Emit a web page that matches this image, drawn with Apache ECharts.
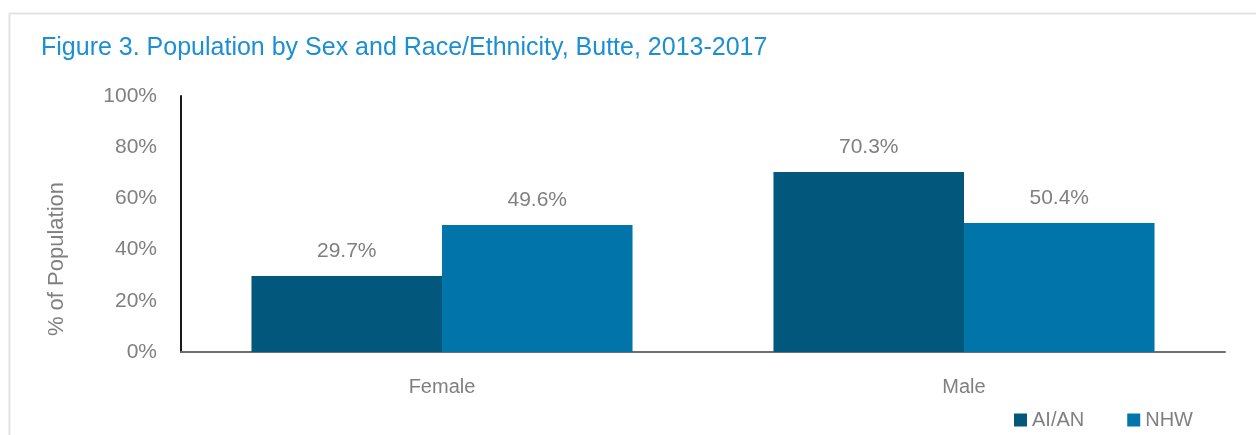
<!DOCTYPE html>
<html><head><meta charset="utf-8">
<script src="https://cdn.jsdelivr.net/npm/echarts@6/dist/echarts.min.js"></script>
<style>html,body{margin:0;padding:0;background:#fff}#c{width:1256px;height:435px}</style>
</head><body><div id="c"></div>
<script>
const categories = ['Female', 'Male'];
const seriesNames = ['AI/AN', 'NHW'];
const aian = [29.7, 70.3];
const nhw = [49.6, 50.4];
const yTicks = [0, 20, 40, 60, 80, 100];
const yAxisTitle = '% of Population';

const FONT = '"Liberation Sans Narrow", "Arial Narrow", "Liberation Sans", Arial, sans-serif';
const chart = echarts.init(document.getElementById('c'), null, {renderer: 'canvas'});
chart.setOption({
  animation: false,
  textStyle: {fontFamily: FONT},
  graphic: [{
    type: 'rect', left: 7, top: 11, silent: true,
    shape: {width: 1300, height: 500},
    style: {fill: 'none', stroke: '#e3e3e3', lineWidth: 2}
  }, {
    type: 'text', x: 57, y: 259, rotation: Math.PI / 2, silent: true,
    style: {text: yAxisTitle, fill: '#808080', fontSize: 22, fontFamily: FONT,
      align: 'center', verticalAlign: 'middle'}
  }],
  title: {
    text: 'Figure 3. Population by Sex and Race/Ethnicity, Butte, 2013-2017',
    left: 36, top: 31,
    textStyle: {color: '#1b8fd2', fontSize: 25, fontWeight: 'normal', fontFamily: FONT}
  },
  legend: {
    data: seriesNames, right: 58, top: 405, itemWidth: 13, itemHeight: 13, itemGap: 43,
    icon: 'rect', itemStyle: {borderWidth: 0},
    textStyle: {color: '#808080', fontSize: 20, fontFamily: FONT}
  },
  grid: {left: 181, right: 31, top: 96, bottom: 83},
  xAxis: {
    type: 'category', data: categories,
    axisLine: {lineStyle: {color: '#6e6e6e', width: 2}},
    axisTick: {show: false},
    axisLabel: {color: '#808080', fontSize: 20, margin: 25, fontFamily: FONT}
  },
  yAxis: {
    type: 'value', min: 0, max: 100, interval: 20,
    axisLine: {show: true, lineStyle: {color: '#1a1a1a', width: 2}},
    axisTick: {show: false},
    splitLine: {show: false},
    axisLabel: {color: '#808080', fontSize: 21, margin: 24, fontFamily: FONT,
      formatter: v => yTicks.includes(v) ? v + '%' : ''}
  },
  series: [
    {name: seriesNames[0], type: 'bar', data: aian, barGap: '0%', barCategoryGap: '27%',
     itemStyle: {color: '#02587c'},
     label: {show: true, position: 'top', distance: 14, color: '#808080', fontSize: 21, fontFamily: FONT,
       formatter: p => p.value.toFixed(1) + '%'}},
    {name: seriesNames[1], type: 'bar', data: nhw, barGap: '0%', barCategoryGap: '27%',
     itemStyle: {color: '#0175a9'},
     label: {show: true, position: 'top', distance: 14, color: '#808080', fontSize: 21, fontFamily: FONT,
       formatter: p => p.value.toFixed(1) + '%'}}
  ]
});
</script></body></html>
